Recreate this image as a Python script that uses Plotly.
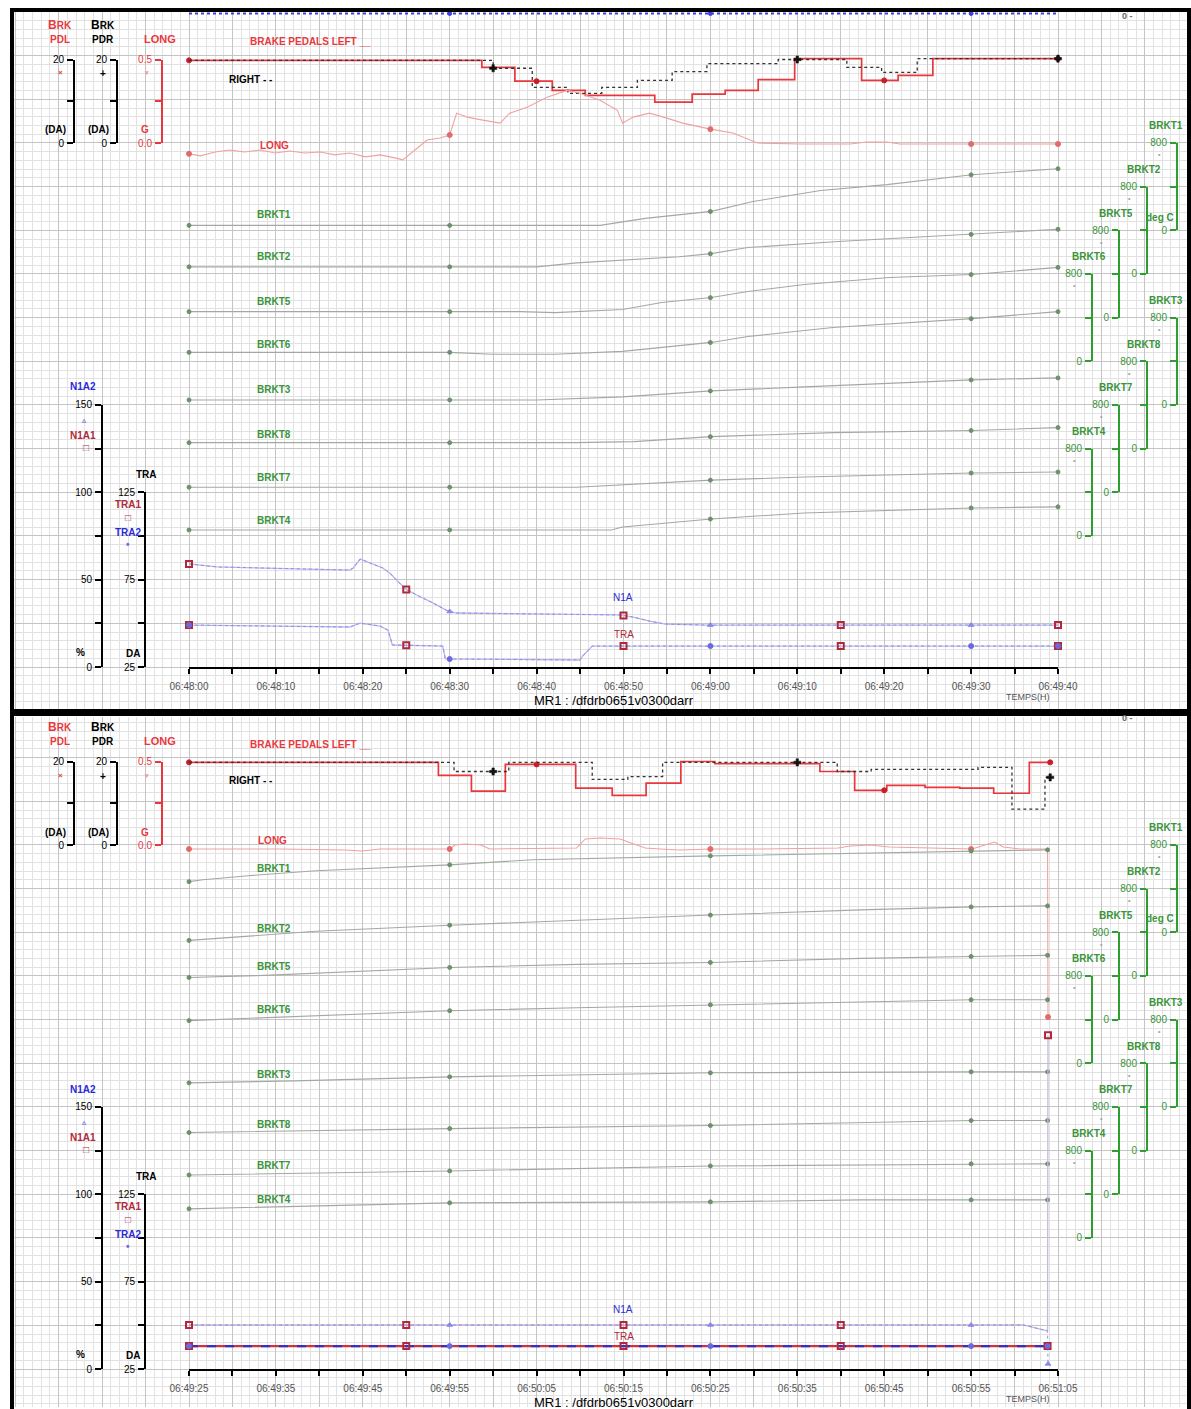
import numpy as np
import pandas as pd
import plotly.graph_objects as go

# =====================================================================
# DATA
# times are seconds after each panel's start time
# =====================================================================
PANEL_STARTS = ["06:48:00", "06:49:25"]
SPAN_S = 100
TICK_STEP_S = 10

# ---------------- panel 1 : 06:48:00 -> 06:49:40 ----------------
PDL_1_S = [0, 33.7, 37.5, 41.8, 45.6, 53.6, 57.9, 61.7, 65.5, 69.7, 77.4, 81.6, 85.6, 100]
PDL_1_V = [19.8, 18.1, 14.8, 12.6, 11.4, 9.8, 11.7, 12.6, 15.2, 20.2, 15.0, 16.2, 20.2, 20.2]
PDR_1_S = [0, 35.0, 39.5, 43.6, 47.5, 51.6, 55.6, 59.6, 67.8, 75.7, 79.7, 83.8, 100]
PDR_1_V = [19.8, 17.9, 13.3, 11.9, 13.3, 15.0, 17.1, 19.0, 20.0, 18.1, 16.9, 20.2, 20.2]
LONG_1_S = [0, 1.3, 3.0, 4.7, 6.4, 8.2, 9.9, 11.6, 13.3, 15.1, 16.8, 18.5, 20.3, 22.0, 23.7,
            24.6, 26.0, 27.4, 28.9, 30.0, 30.8, 32.0, 33.8, 35.8, 36.9, 38.9, 41.2, 43.5,
            45.0, 47.3, 49.3, 49.9, 51.1, 53.0, 55.0, 56.8, 60.0, 62.6, 65.4, 70.3, 76.1,
            78.0, 80.3, 81.8, 90.0, 100]
LONG_1_V = [-0.065, -0.077, -0.054, -0.042, -0.054, -0.042, -0.060, -0.048, -0.060, -0.054,
            -0.071, -0.060, -0.083, -0.071, -0.089, -0.101, -0.042, 0.018, 0.030, 0.048,
            0.179, 0.155, 0.137, 0.119, 0.179, 0.214, 0.274, 0.315, 0.298, 0.256, 0.196,
            0.119, 0.155, 0.179, 0.149, 0.119, 0.083, 0.060, 0.000, -0.006, -0.006, 0.006,
            0.006, -0.006, -0.006, -0.006]
BRKT1_1_S = [0, 47.3, 52.5, 60.1, 64.9, 72.7, 80.3, 90.1, 100]
BRKT1_1_V = [45, 45, 109, 173, 264, 364, 418, 509, 564]
BRKT2_1_S = [0, 40.0, 44.6, 56.4, 60.1, 64.3, 74.7, 90.1, 100]
BRKT2_1_V = [65, 65, 102, 158, 186, 242, 298, 363, 409]
BRKT5_1_S = [0, 38.1, 42.1, 49.9, 54.4, 60.1, 64.3, 70.8, 80.6, 90.1, 100]
BRKT5_1_V = [55, 55, 46, 74, 138, 184, 239, 303, 368, 395, 460]
BRKT6_1_S = [0, 30.0, 34.9, 42.1, 49.9, 55.1, 60.1, 64.3, 74.1, 90.1, 100]
BRKT6_1_V = [82, 82, 64, 64, 91, 136, 173, 227, 309, 391, 455]
BRKT3_1_S = [0, 40.0, 49.9, 60.1, 70.8, 90.1, 100]
BRKT3_1_V = [46, 46, 74, 129, 166, 230, 248]
BRKT8_1_S = [0, 44.6, 51.2, 60.1, 74.1, 90.1, 100]
BRKT8_1_V = [55, 55, 64, 110, 147, 166, 193]
BRKT7_1_S = [0, 44.6, 60.1, 70.8, 90.1, 100]
BRKT7_1_V = [47, 47, 112, 140, 177, 186]
BRKT4_1_S = [0, 48.6, 49.9, 60.1, 70.8, 90.1, 100]
BRKT4_1_V = [55, 55, 83, 156, 211, 257, 267]
N1A1_1_S = [0, 3.2, 18.5, 18.9, 19.7, 20.8, 22.3, 23.1, 24.9, 26.2, 28.1, 29.8, 30.8, 49.6,
            51.1, 53.0, 54.8, 59.6, 100]
N1A1_1_V = [59.0, 57.3, 55.5, 56.7, 61.8, 59.5, 56.7, 53.8, 44.7, 41.2, 36.6, 32.0, 30.9,
            29.8, 28.6, 26.3, 24.6, 24.0, 24.0]
N1A2_1_S = N1A1_1_S
N1A2_1_V = N1A1_1_V
TRA1_1_S = [0, 18.5, 19.7, 22.0, 22.9, 23.4, 29.2, 29.5, 45.0, 45.3, 46.4, 100]
TRA1_1_V = [49.0, 47.9, 50.1, 48.4, 46.1, 37.6, 37.0, 29.6, 29.0, 31.3, 37.0, 37.0]
TRA2_1_S = TRA1_1_S
TRA2_1_V = TRA1_1_V
TOPLINE_1_S = [0, 100]          # channel pinned at full scale (top edge)
TOPLINE_1_V = [1.0, 1.0]

# ---------------- panel 2 : 06:49:25 -> 06:51:05 ----------------
PDL_2_S = [0, 28.7, 32.5, 36.4, 44.5, 48.7, 52.6, 56.6, 60.5, 72.6, 76.6, 80.3, 84.7, 88.7,
           92.6, 96.7, 99.1]
PDL_2_V = [19.8, 16.7, 12.9, 19.3, 13.6, 11.9, 14.8, 20.0, 19.5, 17.6, 13.1, 14.3, 13.8,
           13.6, 12.4, 19.8, 19.8]
PDR_2_S = [0, 30.5, 36.8, 46.4, 50.5, 54.5, 74.6, 78.5, 90.8, 94.7, 98.5, 99.1]
PDR_2_V = [19.8, 17.6, 19.8, 15.7, 16.4, 19.8, 17.6, 18.1, 18.6, 8.6, 16.2, 16.2]
LONG_2_S = [0, 10.5, 18.0, 19.9, 22.0, 30.0, 30.6, 31.8, 33.6, 34.6, 44.6, 45.6, 47.3, 49.6,
            51.2, 52.5, 54.2, 56.5, 60.1, 65.7, 74.7, 76.1, 78.4, 80.6, 90.1, 91.7, 92.7,
            93.7, 95.6, 98.8, 98.85]
LONG_2_V = [-0.024, -0.024, -0.030, -0.036, -0.024, -0.024, 0.0, 0.006, 0.0, -0.024, -0.018,
            0.036, 0.042, 0.036, 0.006, -0.018, -0.024, -0.030, -0.024, -0.024, -0.018,
            -0.006, 0.0, -0.012, -0.024, 0.0, 0.018, -0.012, -0.024, -0.024, -1.03]
BRKT1_2_S = [0, 1.6, 6.8, 14.6, 30.0, 39.5, 60.1, 90.1, 98.8]
BRKT1_2_V = [464, 482, 518, 564, 618, 664, 700, 745, 755]
BRKT2_2_S = [0, 6.8, 14.6, 30.0, 44.6, 60.1, 77.3, 90.1, 98.8]
BRKT2_2_V = [326, 363, 409, 465, 512, 558, 605, 633, 642]
BRKT5_2_S = [0, 8.7, 30.0, 44.6, 60.1, 77.3, 90.1, 98.8]
BRKT5_2_V = [386, 405, 478, 506, 524, 561, 579, 589]
BRKT6_2_S = [0, 12.1, 30.0, 44.6, 60.1, 77.3, 90.1, 98.8]
BRKT6_2_V = [391, 427, 482, 509, 536, 564, 582, 582]
BRKT3_2_S = [0, 12.1, 30.0, 44.6, 60.1, 90.1, 98.8]
BRKT3_2_V = [221, 239, 276, 294, 313, 322, 322]
BRKT8_2_S = [0, 21.9, 30.0, 60.1, 90.1, 98.8]
BRKT8_2_V = [166, 193, 202, 230, 276, 276]
BRKT7_2_S = [0, 30.0, 60.1, 90.1, 98.8]
BRKT7_2_V = [177, 214, 260, 279, 279]
BRKT4_2_S = [0, 30.0, 60.1, 77.3, 90.1, 98.8]
BRKT4_2_V = [267, 322, 331, 349, 349, 349]
N1A1_2_S = [0, 96.0, 98.8, 98.85]
N1A1_2_V = [25.2, 25.2, 21.8, 191.0]
N1A2_2_S = [0, 96.0, 98.8, 98.85]
N1A2_2_V = [25.2, 25.2, 21.8, 2.9]
TRA1_2_S = [0, 98.8]
TRA1_2_V = [38.1, 38.1]
TRA2_2_S = [0, 98.8]
TRA2_2_V = [38.1, 38.1]

BRKT_NAMES = ["BRKT1", "BRKT2", "BRKT5", "BRKT6", "BRKT3", "BRKT8", "BRKT7", "BRKT4"]

PANEL_DATA = [
    dict(PDL=(PDL_1_S, PDL_1_V), PDR=(PDR_1_S, PDR_1_V), LONG=(LONG_1_S, LONG_1_V),
         BRKT1=(BRKT1_1_S, BRKT1_1_V), BRKT2=(BRKT2_1_S, BRKT2_1_V),
         BRKT5=(BRKT5_1_S, BRKT5_1_V), BRKT6=(BRKT6_1_S, BRKT6_1_V),
         BRKT3=(BRKT3_1_S, BRKT3_1_V), BRKT8=(BRKT8_1_S, BRKT8_1_V),
         BRKT7=(BRKT7_1_S, BRKT7_1_V), BRKT4=(BRKT4_1_S, BRKT4_1_V),
         N1A1=(N1A1_1_S, N1A1_1_V), N1A2=(N1A2_1_S, N1A2_1_V),
         TRA1=(TRA1_1_S, TRA1_1_V), TRA2=(TRA2_1_S, TRA2_1_V),
         TOP=(TOPLINE_1_S, TOPLINE_1_V)),
    dict(PDL=(PDL_2_S, PDL_2_V), PDR=(PDR_2_S, PDR_2_V), LONG=(LONG_2_S, LONG_2_V),
         BRKT1=(BRKT1_2_S, BRKT1_2_V), BRKT2=(BRKT2_2_S, BRKT2_2_V),
         BRKT5=(BRKT5_2_S, BRKT5_2_V), BRKT6=(BRKT6_2_S, BRKT6_2_V),
         BRKT3=(BRKT3_2_S, BRKT3_2_V), BRKT8=(BRKT8_2_S, BRKT8_2_V),
         BRKT7=(BRKT7_2_S, BRKT7_2_V), BRKT4=(BRKT4_2_S, BRKT4_2_V),
         N1A1=(N1A1_2_S, N1A1_2_V), N1A2=(N1A2_2_S, N1A2_2_V),
         TRA1=(TRA1_2_S, TRA1_2_V), TRA2=(TRA2_2_S, TRA2_2_V)),
]

# =====================================================================
# LAYOUT / STYLE
# =====================================================================
W, H = 1191, 1409
FONT = "Liberation Sans, Arial, sans-serif"
RED = "#e8383d"
DARKRED = "#b0283a"
BLUE = "#2b2bd6"
GREEN = "#2e9e2e"
GREEN_TXT = "#3a943a"
PINK = "#f2a0a0"
GRAYLINE = "#a2a9a2"
LAV = "#b9b9ec"
MAJ = "#c4c4c4"
MIN = "#e2e2e2"

X0_PX, X1_PX = 189, 1058
PX_PER_S = (X1_PX - X0_PX) / SPAN_S
GY = 43.67
PANELS = [dict(left=14, right=1187, top=12, bottom=709, axis=667, dy=0),
          dict(left=14, right=1187, top=717, bottom=1407, axis=1369, dy=702)]


def fx(x):
    return x / W


def fy(y):
    return 1 - y / H


# name: (x px, bottom offset above time axis, top offset, vmin, vmax, tickvals, ticktext, line col, label col)
BRACKETS = {
    "PDL": (74, 524, 607.5, 0, 20, [0, 10, 20], ["0", "", "20"], "black", "black"),
    "PDR": (117, 524, 607.5, 0, 20, [0, 10, 20], ["0", "", "20"], "black", "black"),
    "LONG": (162, 524, 607.5, 0.0, 0.5, [0, 0.25, 0.5], ["0.0", "", "0.5"], RED, RED),
    "BRKT1": (1177, 10 * GY, 12 * GY, 0, 800, [0, 400, 800], ["0", "", "800"], GREEN, GREEN_TXT),
    "BRKT2": (1147, 9 * GY, 11 * GY, 0, 800, [0, 400, 800], ["0", "", "800"], GREEN, GREEN_TXT),
    "BRKT5": (1119, 8 * GY, 10 * GY, 0, 800, [0, 400, 800], ["0", "", "800"], GREEN, GREEN_TXT),
    "BRKT6": (1092, 7 * GY, 9 * GY, 0, 800, [0, 400, 800], ["0", "", "800"], GREEN, GREEN_TXT),
    "BRKT3": (1177, 6 * GY, 8 * GY, 0, 800, [0, 400, 800], ["0", "", "800"], GREEN, GREEN_TXT),
    "BRKT8": (1147, 5 * GY, 7 * GY, 0, 800, [0, 400, 800], ["0", "", "800"], GREEN, GREEN_TXT),
    "BRKT7": (1119, 4 * GY, 6 * GY, 0, 800, [0, 400, 800], ["0", "", "800"], GREEN, GREEN_TXT),
    "BRKT4": (1092, 3 * GY, 5 * GY, 0, 800, [0, 400, 800], ["0", "", "800"], GREEN, GREEN_TXT),
    "N1A": (102, 0, 6 * GY, 0, 150, [0, 25, 50, 75, 100, 125, 150],
            ["0", "", "50", "", "100", "", "150"], "black", "black"),
    "TRA": (145, 0, 4 * GY, 25, 125, [25, 50, 75, 100, 125], ["25", "", "75", "", "125"],
            "black", "black"),
}

layout_axes = {}
traces = []
cnt = {"x": 0, "y": 0}


def add_axis(letter, **kw):
    cnt[letter] += 1
    n = cnt[letter]
    suffix = "" if n == 1 else str(n)
    layout_axes[f"{letter}axis{suffix}"] = kw
    return f"{letter}{suffix}"


def akey(ref):
    return ref[0] + "axis" + ref[1:]


def tstamps(start, secs):
    return pd.Timestamp(f"2000-01-01 {start}") + pd.to_timedelta(np.asarray(secs, float), unit="s")


def sample(ts, vs, tm, step):
    ts = np.asarray(ts, float)
    vs = np.asarray(vs, float)
    tm = np.asarray(tm, float)
    if step:
        idx = np.clip(np.searchsorted(ts, tm, side="right") - 1, 0, len(vs) - 1)
        return vs[idx]
    return np.interp(tm, ts, vs)


annotations = []


def ann(text, x, y, color="black", size=10, xanchor="center", bold=True, family=FONT):
    annotations.append(dict(text=f"<b>{text}</b>" if bold else text, x=fx(x), y=fy(y),
                            xref="paper", yref="paper", showarrow=False, xanchor=xanchor,
                            yanchor="middle", font=dict(size=size, color=color, family=family)))


IN_PLOT_LABELS = [
    dict(LONG=(274, 145), BRKT1=(274, 215), BRKT2=(274, 256), BRKT5=(274, 301), BRKT6=(274, 344),
         BRKT3=(274, 389), BRKT8=(274, 434), BRKT7=(274, 477), BRKT4=(274, 520),
         N1A=(623, 597), TRA=(624, 634)),
    dict(LONG=(272, 841), BRKT1=(274, 868), BRKT2=(274, 928), BRKT5=(274, 966), BRKT6=(274, 1009),
         BRKT3=(274, 1074), BRKT8=(274, 1124), BRKT7=(274, 1165), BRKT4=(274, 1199),
         N1A=(623, 1309), TRA=(624, 1336)),
]

for pi, p in enumerate(PANELS):
    start = PANEL_STARTS[pi]
    D = PANEL_DATA[pi]
    dy = p["dy"]

    # ---- background grid subplot (whole panel) ----
    gx = add_axis("x")
    gy = add_axis("y")
    layout_axes[akey(gx)] = dict(
        domain=[fx(p["left"]), fx(p["right"])],
        range=[(p["left"] - X0_PX) / PX_PER_S, (p["right"] - X0_PX) / PX_PER_S],
        tick0=0, dtick=5, showgrid=True, gridcolor=MAJ, gridwidth=1,
        minor=dict(tick0=0, dtick=1, showgrid=True, gridcolor=MIN, gridwidth=1),
        showticklabels=False, ticks="", zeroline=False, showline=False, anchor=gy,
        fixedrange=True, automargin=False)
    layout_axes[akey(gy)] = dict(
        domain=[fy(p["bottom"]), fy(p["top"])],
        range=[(p["axis"] - p["bottom"]) / GY * 5, (p["axis"] - p["top"]) / GY * 5],
        tick0=0, dtick=5, showgrid=True, gridcolor=MAJ, gridwidth=1,
        minor=dict(tick0=0, dtick=1, showgrid=True, gridcolor=MIN, gridwidth=1),
        showticklabels=False, ticks="", zeroline=False, showline=False, anchor=gx,
        fixedrange=True, automargin=False)
    traces.append(go.Scatter(x=[], y=[], xaxis=gx, yaxis=gy, showlegend=False, hoverinfo="skip"))

    # ---- time axis ----
    t_start = tstamps(start, [0])[0]
    t_end = tstamps(start, [SPAN_S])[0]
    xt = add_axis("x",
                  type="date", domain=[fx(X0_PX), fx(X1_PX)], range=[t_start, t_end],
                  tick0=t_start, dtick=TICK_STEP_S * 1000, tickformat="%H:%M:%S",
                  ticks="outside", ticklen=5, tickwidth=1.5, tickcolor="black",
                  minor=dict(dtick=TICK_STEP_S * 500, ticks="outside", ticklen=5,
                             tickcolor="black", tickwidth=1.5, showgrid=False),
                  showline=True, linecolor="black", linewidth=2, showgrid=False,
                  zeroline=False, ticklabelstandoff=4,
                  tickfont=dict(size=10, color="#555555", family=FONT),
                  fixedrange=True, automargin=False)

    # ---- bracket axes + hidden data axes ----
    data_ax = {}
    bracket_ax = {}

    def data_axis(ybot, ytop, vmin, vmax):
        s = (vmax - vmin) / (ybot - ytop)
        lo = vmin - (p["bottom"] - ybot) * s
        hi = vmax + (ytop - p["top"]) * s
        return add_axis("y", domain=[fy(p["bottom"]), fy(p["top"])], range=[lo, hi],
                        visible=False, anchor=xt, fixedrange=True, automargin=False)

    for name, (bx, off0, off1, vmin, vmax, tv, tt, lc, tc) in BRACKETS.items():
        ybot = p["axis"] - off0
        ytop = p["axis"] - off1
        yb = add_axis("y", domain=[fy(ybot), fy(ytop)], range=[vmin, vmax], anchor="free",
                      position=fx(bx), side="left", showline=True, linecolor=lc, linewidth=2,
                      ticks="outside", ticklen=6, tickwidth=2, tickcolor=lc, tickvals=tv,
                      ticktext=tt, tickfont=dict(size=10, color=tc, family=FONT),
                      showgrid=False, zeroline=False, fixedrange=True, automargin=False,
                      ticklabelstandoff=1)
        traces.append(go.Scatter(x=[], y=[], xaxis=xt, yaxis=yb, showlegend=False,
                                 hoverinfo="skip"))
        bracket_ax[name] = yb
        data_ax[name] = data_axis(ybot, ytop, vmin, vmax)
    layout_axes[akey(xt)]["anchor"] = bracket_ax["N1A"]

    def line(ax, key, color, width, dash="solid", shape="linear", opacity=1.0):
        ts, vs = D[key]
        traces.append(go.Scatter(x=tstamps(start, ts), y=vs, xaxis=xt, yaxis=ax, mode="lines",
                                 line=dict(color=color, width=width, dash=dash, shape=shape),
                                 opacity=opacity, showlegend=False, hoverinfo="skip"))

    def marks(ax, key, tm, step, symbol, size, color, lw=1.0, add_end=True):
        ts, vs = D[key]
        tm = list(tm) + ([ts[-1]] if add_end else [])
        traces.append(go.Scatter(x=tstamps(start, tm), y=sample(ts, vs, tm, step), xaxis=xt,
                                 yaxis=ax, mode="markers", cliponaxis=False,
                                 marker=dict(symbol=symbol, size=size, color=color,
                                             line=dict(color=color, width=lw)),
                                 showlegend=False, hoverinfo="skip"))

    # top pinned channel (panel 1 only)
    if "TOP" in D:
        ytop_ax = data_axis(p["axis"], p["top"] + 1.5, 0.0, 1.0)
        line(ytop_ax, "TOP", "#4040e0", 2, dash="dot")
        marks(ytop_ax, "TOP", [30, 60, 90], False, "circle", 4, "#4040e0", add_end=False)

    # brake temperatures
    for b in BRKT_NAMES:
        line(data_ax[b], b, GRAYLINE, 1.1)
        marks(data_ax[b], b, [0, 30, 60, 90], False, "circle", 4, "#6f8f6f")

    # longitudinal acceleration
    line(data_ax["LONG"], "LONG", PINK, 1.1)
    marks(data_ax["LONG"], "LONG", [0, 30, 60, 90], False, "circle", 5, "#e46a6a")

    # N1A (engine speed) and TRA (throttle)
    line(data_ax["N1A"], "N1A1", LAV if pi == 0 else "#c8b8d8", 1.3)
    line(data_ax["N1A"], "N1A2", "#8f8fe6", 1, dash="dot")
    if pi == 0:
        line(data_ax["TRA"], "TRA1", LAV, 1.3)
        line(data_ax["TRA"], "TRA2", "#8f8fe6", 1, dash="dot")
    else:
        line(data_ax["TRA"], "TRA1", "#d03040", 2.2)
        line(data_ax["TRA"], "TRA2", "#3030d0", 2.2, dash="dash")
    marks(data_ax["N1A"], "N1A1", [0, 25, 50, 75], False, "square-open", 6, DARKRED, lw=2)
    marks(data_ax["N1A"], "N1A2", [30, 60, 90], False, "triangle-up", 5, "#8a8ae6",
          add_end=(pi == 1))
    marks(data_ax["TRA"], "TRA1", [0, 25, 50, 75], False, "square-open", 6, DARKRED, lw=2)
    marks(data_ax["TRA"], "TRA2", [0, 30, 60, 90], False, "circle", 5, "#6a6ae0")

    # brake pedals
    line(data_ax["PDL"], "PDL", RED, 1.7, shape="hv")
    line(data_ax["PDR"], "PDR", "#333333", 1.3, dash="dot", shape="hv")
    marks(data_ax["PDL"], "PDL", [0, 40, 80], True, "circle", 5, "#c81e28")
    marks(data_ax["PDR"], "PDR", [35, 70], True, "cross", 6, "#111111", lw=0.5)

    # ---------- text labels ----------
    bigB = "<span style='font-size:12px'>B</span>RK"
    ann(bigB, 60, 25 + dy, RED)
    ann("PDL", 60, 39 + dy, RED)
    ann(bigB, 103, 25 + dy, "black")
    ann("PDR", 103, 39 + dy, "black")
    ann("LONG", 160, 39 + dy, RED, 11)
    ann("(DA)", 55, 130 + dy)
    ann("(DA)", 98, 130 + dy)
    ann("G", 145, 130 + dy, RED)
    ann("BRAKE PEDALS LEFT __", 310, 42 + dy, RED)
    ann("RIGHT - -", 250, 79 + dy, "black")
    ann("N1A2", 83, 387 + dy, BLUE)
    ann("N1A1", 83, 435 + dy, DARKRED)
    ann("%", 80, 652 + dy)
    ann("TRA", 146, 474 + dy)
    ann("TRA1", 128, 504 + dy, DARKRED)
    ann("TRA2", 128, 532 + dy, BLUE)
    ann("DA", 133, 653 + dy)
    ann("deg C", 1160, 217 + dy, GREEN_TXT)
    ann("×", 60, 73 + dy, RED, 8)
    ann("+", 103, 74 + dy, "black", 10)
    ann("▾", 146, 73 + dy, PINK, 7)
    ann("▵", 84, 420 + dy, "#8a8ae6", 8)
    ann("□", 86, 447 + dy, DARKRED, 10)
    ann("□", 128, 517 + dy, DARKRED, 10)
    ann("•", 128, 544 + dy, "#6a6ae0", 10)
    for name in BRKT_NAMES:
        bx, off0, off1 = BRACKETS[name][:3]
        ytop = p["axis"] - off1
        if bx > 1170:
            ann(name, 1185, ytop - 17, GREEN_TXT, 10, xanchor="right")
        else:
            ann(name, bx - 3, ytop - 17, GREEN_TXT, 10)
        ann("•", bx - 18, ytop + 12, "#9aa89a", 7)
    ann("0 -", 1127, 16 + dy, "#666666", 9)
    lab = IN_PLOT_LABELS[pi]
    ann("LONG", lab["LONG"][0], lab["LONG"][1], RED, 10)
    for b in BRKT_NAMES:
        ann(b, lab[b][0], lab[b][1], GREEN_TXT, 10)
    ann("N1A", lab["N1A"][0], lab["N1A"][1], BLUE, 10, bold=False)
    ann("TRA", lab["TRA"][0], lab["TRA"][1], DARKRED, 10, bold=False)
    ann("MR1 : /dfdrb0651v0300darr", 614, 700 + dy, "black", 13, bold=False)
    ann("TEMPS(H)", 1028, 697 + dy, "#555555", 9, bold=False)

shapes = [
    dict(type="rect", xref="paper", yref="paper", x0=fx(12), x1=fx(1189), y0=fy(10), y1=fy(711),
         line=dict(color="black", width=4), fillcolor="rgba(0,0,0,0)", layer="above"),
    dict(type="rect", xref="paper", yref="paper", x0=fx(12), x1=fx(1189), y0=fy(714),
         y1=fy(1412), line=dict(color="black", width=4), fillcolor="rgba(0,0,0,0)",
         layer="above"),
]

fig = go.Figure(data=traces)
fig.update_layout(
    width=W, height=H, autosize=False,
    margin=dict(l=0, r=0, t=0, b=0, pad=0),
    paper_bgcolor="white", plot_bgcolor="rgba(0,0,0,0)",
    showlegend=False, hovermode=False,
    annotations=annotations, shapes=shapes,
    font=dict(family=FONT),
    **layout_axes,
)
fig.write_html("out.html", config={"displayModeBar": False},
               post_script="document.body.style.margin='0';document.body.style.overflow='hidden';")
